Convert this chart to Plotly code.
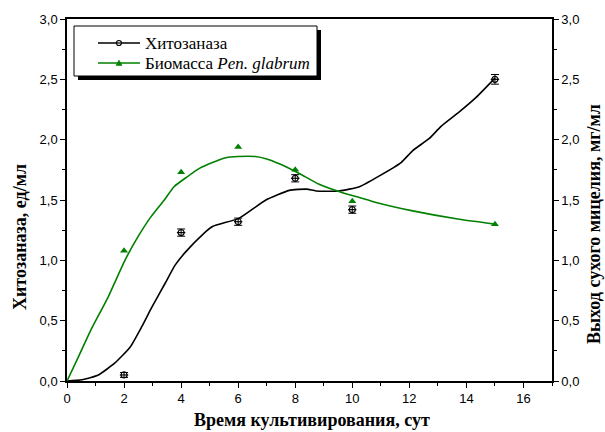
import plotly.graph_objects as go

# ---- data ----
days = [2, 4, 6, 8, 10, 15]
chitosanase = [0.05, 1.23, 1.32, 1.68, 1.42, 2.50]
chitosanase_err = [0.02, 0.03, 0.03, 0.03, 0.03, 0.04]
biomass = [1.08, 1.73, 1.94, 1.75, 1.49, 1.30]

fit_chit_x = [0, 0.52, 1.10, 1.68, 2.21, 2.62, 2.97, 3.44, 3.79, 4.16, 4.78, 5.10, 6.04,
              6.97, 7.79, 8.40, 8.73, 9.54, 10.25, 10.95, 11.71, 12.12, 12.70, 13.11, 13.75, 14.34, 15.0]
fit_chit_y = [0, 0.01, 0.05, 0.15, 0.28, 0.45, 0.61, 0.81, 0.96, 1.07, 1.22, 1.28, 1.35,
              1.50, 1.58, 1.59, 1.575, 1.575, 1.61, 1.70, 1.81, 1.91, 2.01, 2.11, 2.23, 2.35, 2.51]

fit_bio_x = [0, 0.4, 0.81, 1.45, 2.03, 2.5, 2.94, 3.41, 3.75, 4.2, 4.63, 5.1, 5.57, 6.0, 6.6,
             7.0, 7.44, 8.14, 8.84, 9.66, 10.25, 10.83, 12.12, 13.75, 15.0]
fit_bio_y = [0, 0.2, 0.41, 0.70, 1.0, 1.20, 1.36, 1.50, 1.61, 1.69, 1.76, 1.81, 1.85, 1.86, 1.86,
             1.84, 1.80, 1.72, 1.63, 1.56, 1.52, 1.48, 1.41, 1.34, 1.30]

x_title = "Время культивирования, сут"
y_title = "Хитозаназа, ед/мл"
y2_title = "Выход сухого мицелия, мг/мл"
name_chit = "Хитозаназа"
name_bio = "Биомасса <i>Pen. glabrum</i>"

BLACK = "#000000"
GREEN = "#008000"
SERIF = "Liberation Serif, Times New Roman, serif"
SANS = "Liberation Sans, Arial, sans-serif"

fig = go.Figure()

# fitted curves
fig.add_trace(go.Scatter(x=fit_chit_x, y=fit_chit_y, mode="lines",
                         line=dict(color=BLACK, width=1.6, shape="spline", smoothing=0.5),
                         showlegend=False, hoverinfo="skip"))
fig.add_trace(go.Scatter(x=fit_bio_x, y=fit_bio_y, mode="lines", yaxis="y2",
                         line=dict(color=GREEN, width=1.6, shape="spline", smoothing=0.5),
                         showlegend=False, hoverinfo="skip"))

# measured points
fig.add_trace(go.Scatter(x=days, y=chitosanase, mode="markers", name=name_chit,
                         marker=dict(symbol="circle-open", size=6, color=BLACK, line=dict(width=1.2)),
                         error_y=dict(type="data", array=chitosanase_err, color=BLACK, thickness=1, width=4),
                         showlegend=False, cliponaxis=False))
fig.add_trace(go.Scatter(x=days, y=chitosanase, mode="markers",
                         marker=dict(symbol="line-ew-open", size=6, color=BLACK, line=dict(width=1.2, color=BLACK)),
                         showlegend=False, cliponaxis=False, hoverinfo="skip"))
fig.add_trace(go.Scatter(x=days, y=biomass, mode="markers", yaxis="y2", name="Биомасса",
                         marker=dict(symbol="triangle-up", size=7, color=GREEN),
                         showlegend=False, cliponaxis=False))

L, R, T, B = 67, 53, 19, 51
W, H = 605, 432
pw, ph = W - L - R, H - T - B

def px(xp):
    return (xp - L) / pw

def py(yp):
    return (H - B - yp) / ph

axis_common = dict(showline=True, linecolor=BLACK, linewidth=1.5, ticks="outside",
                   ticklen=5, tickwidth=1.2, tickcolor=BLACK, showgrid=False, zeroline=False,
                   tickfont=dict(family=SANS, size=13, color=BLACK))

# ---- legend box drawn with shapes / annotations ----
shapes = [
    dict(type="rect", xref="paper", yref="paper", x0=px(78), x1=px(321), y0=py(80), y1=py(30),
         fillcolor=BLACK, line=dict(width=0), layer="above"),
    dict(type="rect", xref="paper", yref="paper", x0=px(74), x1=px(317), y0=py(76), y1=py(26),
         fillcolor="white", line=dict(color=BLACK, width=1), layer="above"),
]
annotations = []
for row_y, color, label, kind in [(43, BLACK, name_chit, "circle"), (63, GREEN, name_bio, "tri")]:
    shapes.append(dict(type="line", xref="paper", yref="paper", x0=px(98), x1=px(140),
                       y0=py(row_y), y1=py(row_y), line=dict(color=color, width=1.6), layer="above"))
    if kind == "circle":
        shapes.append(dict(type="circle", xref="paper", yref="paper",
                           x0=px(116.5), x1=px(121.5), y0=py(row_y + 2.5), y1=py(row_y - 2.5),
                           fillcolor="white", line=dict(color=color, width=1.2), layer="above"))
        shapes.append(dict(type="line", xref="paper", yref="paper", x0=px(116.5), x1=px(121.5),
                           y0=py(row_y), y1=py(row_y), line=dict(color=color, width=1.2), layer="above"))
    else:
        shapes.append(dict(type="path", xref="paper", yref="paper",
                           path=f"M {px(116)},{py(row_y + 2.5)} L {px(122)},{py(row_y + 2.5)} "
                                f"L {px(119)},{py(row_y - 3)} Z",
                           fillcolor=color, line=dict(color=color, width=0.5), layer="above"))
    annotations.append(dict(text=label, xref="paper", yref="paper", x=px(143), y=py(row_y),
                            xanchor="left", yanchor="middle", showarrow=False,
                            font=dict(family=SERIF, size=17, color=BLACK)))

annotations += [
    dict(text=f"<b>{x_title}</b>", xref="paper", yref="paper", x=px(312), y=py(420),
         xanchor="center", yanchor="middle",
         showarrow=False, font=dict(family=SERIF, size=18, color=BLACK)),
    dict(text=f"<b>{y_title}</b>", xref="paper", yref="paper", x=px(20), y=py(237),
         xanchor="center", yanchor="middle",
         textangle=-90, showarrow=False, font=dict(family=SERIF, size=18, color=BLACK)),
    dict(text=f"<b>{y2_title}</b>", xref="paper", yref="paper", x=px(594), y=py(224),
         xanchor="center", yanchor="middle",
         textangle=-90, showarrow=False, font=dict(family=SERIF, size=18, color=BLACK)),
]

fig.update_layout(
    width=W, height=H,
    margin=dict(l=L, r=R, t=T, b=B),
    paper_bgcolor="white", plot_bgcolor="white",
    separators=", ",
    showlegend=False,
    xaxis=dict(range=[0, 17], dtick=2, tick0=0, mirror=True,
               minor=dict(dtick=1, ticks="outside", ticklen=3, tickcolor=BLACK, tickwidth=1.2),
               **axis_common),
    yaxis=dict(range=[0, 3], dtick=0.5, tick0=0, tickformat=".1f",
               minor=dict(dtick=0.25, ticks="outside", ticklen=3, tickcolor=BLACK, tickwidth=1.2),
               **axis_common),
    yaxis2=dict(range=[0, 3], dtick=0.5, tick0=0, tickformat=".1f", overlaying="y", side="right",
                minor=dict(dtick=0.25, ticks="outside", ticklen=3, tickcolor=BLACK, tickwidth=1.2),
                **axis_common),
    shapes=shapes,
    annotations=annotations,
)

fig.write_html("out.html")
